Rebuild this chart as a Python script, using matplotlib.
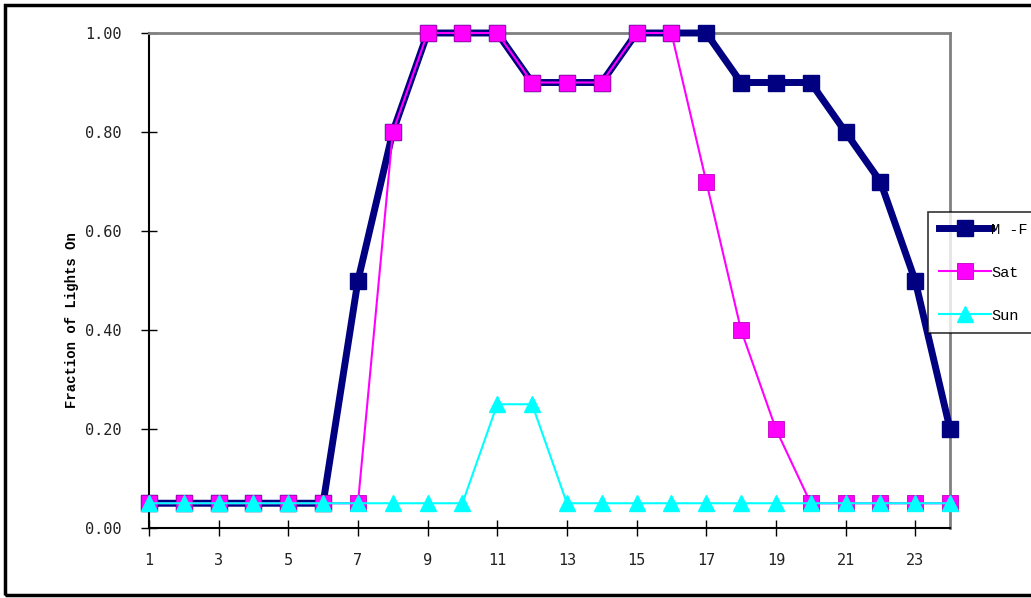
import matplotlib
matplotlib.use("Agg")
import matplotlib.pyplot as plt
from matplotlib.patches import Rectangle

hours = list(range(1, 25))
mf = [0.05, 0.05, 0.05, 0.05, 0.05, 0.05, 0.5, 0.8, 1.0, 1.0, 1.0, 0.9,
      0.9, 0.9, 1.0, 1.0, 1.0, 0.9, 0.9, 0.9, 0.8, 0.7, 0.5, 0.2]
sat = [0.05, 0.05, 0.05, 0.05, 0.05, 0.05, 0.05, 0.8, 1.0, 1.0, 1.0, 0.9,
       0.9, 0.9, 1.0, 1.0, 0.7, 0.4, 0.2, 0.05, 0.05, 0.05, 0.05, 0.05]
sun = [0.05, 0.05, 0.05, 0.05, 0.05, 0.05, 0.05, 0.05, 0.05, 0.05, 0.25, 0.25,
       0.05, 0.05, 0.05, 0.05, 0.05, 0.05, 0.05, 0.05, 0.05, 0.05, 0.05, 0.05]
series_labels = ["M -F", "Sat", "Sun"]
xticks = list(range(1, 24, 2))
yticks = [0.0, 0.2, 0.4, 0.6, 0.8, 1.0]
ylabel = "Fraction of Lights On"

W, H = 1031, 598
fig = plt.figure(figsize=(W / 100, H / 100), dpi=100)
ax = fig.add_axes([149 / W, (H - 528) / H, 801 / W, 495 / H])

l1, = ax.plot(hours, mf, color="#000080", lw=5, marker="s", ms=11,
              mfc="#000080", mec="#000080", clip_on=False, zorder=3)
l2, = ax.plot(hours, sat, color="#FF00FF", lw=1.5, marker="s", ms=11,
              mfc="#FF00FF", mec="#C000C0", mew=0.6, clip_on=False, zorder=4)
l3, = ax.plot(hours, sun, color="#00FFFF", lw=1.5, marker="^", ms=12,
              mfc="#00FFFF", mec="#00FFFF", clip_on=False, zorder=5)

ax.set_xlim(1, 24)
ax.set_ylim(0, 1)
ax.set_xticks(xticks)
ax.set_xticklabels([str(v) for v in xticks])
ax.set_yticks(yticks)
ax.set_yticklabels(["%.2f" % v for v in yticks])

tick_font = "DejaVu Sans Mono"
for lab in ax.get_xticklabels() + ax.get_yticklabels():
    lab.set_fontfamily(tick_font)
    lab.set_fontsize(11)
    lab.set_color("#222222")

ax.tick_params(axis="both", direction="inout", length=12, width=1, color="black")
ax.tick_params(axis="x", pad=12)
ax.tick_params(axis="y", pad=14)

for s in ["left", "bottom"]:
    ax.spines[s].set_color("black")
    ax.spines[s].set_linewidth(1.5)
for s in ["top", "right"]:
    ax.spines[s].set_color("#808080")
    ax.spines[s].set_linewidth(2)

ax.set_ylabel(ylabel, fontfamily="Liberation Mono", fontweight="bold", fontsize=10)
ax.yaxis.set_label_coords(-0.088, 0.42)

leg = fig.legend([l1, l2, l3], series_labels, loc="upper left",
                 bbox_to_anchor=(928 / W, 1 - 212 / H),
                 prop={"family": "Liberation Mono", "size": 11},
                 frameon=True, fancybox=False, edgecolor="black",
                 handlelength=3.4, handletextpad=0.05, labelspacing=1.9,
                 borderpad=0.7, borderaxespad=0)
leg.get_frame().set_linewidth(1.2)

border = Rectangle((5 / W, 3 / H), 1.05, 1 - 8 / H, transform=fig.transFigure,
                   fill=False, edgecolor="black", lw=2.5, clip_on=False)
fig.patches.append(border)

fig.savefig("out.png", dpi=100)
